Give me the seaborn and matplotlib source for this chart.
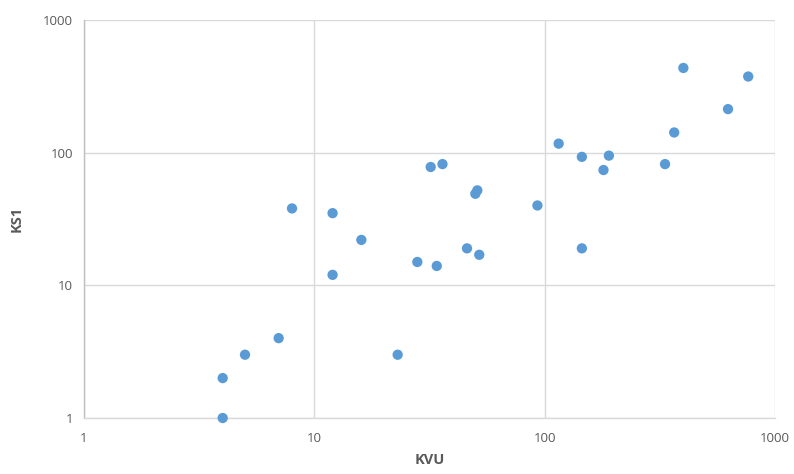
import pandas as pd
import matplotlib.pyplot as plt
import seaborn as sns
from matplotlib.ticker import FixedLocator, NullLocator

kvu = [4, 4, 5, 7, 8, 12, 12, 16, 23, 28, 32, 34, 36, 46, 50, 51, 52, 93,
       115, 145, 145, 180, 190, 333, 365, 400, 625, 765]
ks1 = [2, 1, 3, 4, 38, 35, 12, 22, 3, 15, 78, 14, 82, 19, 49, 52, 17, 40,
       117, 93, 19, 74, 95, 82, 142, 435, 213, 375]
ticks = [1, 10, 100, 1000]
tick_labels = ["1", "10", "100", "1000"]

df = pd.DataFrame({"KVU": kvu, "KS1": ks1})

sns.set_style("white")
plt.rcParams['font.family'] = ['Open Sans', 'DejaVu Sans']

fig = plt.figure(figsize=(7.94, 4.74), dpi=100)
ax = fig.add_axes([0.1058, 0.1181, 0.8703, 0.8397])

sns.scatterplot(data=df, x="KVU", y="KS1", ax=ax, color="#5B9BD5",
                s=55, edgecolor="none", zorder=3, clip_on=False)

ax.set_xscale("log")
ax.set_yscale("log")
ax.set_xlim(1, 1000)
ax.set_ylim(1, 1000)
ax.xaxis.set_major_locator(FixedLocator(ticks))
ax.yaxis.set_major_locator(FixedLocator(ticks))
ax.xaxis.set_minor_locator(NullLocator())
ax.yaxis.set_minor_locator(NullLocator())
ax.set_xticklabels(tick_labels)
ax.set_yticklabels(tick_labels)

ax.grid(True, color="#D9D9D9", linewidth=1)
ax.set_axisbelow(True)
for side in ["top", "right"]:
    ax.spines[side].set_visible(False)
ax.spines["bottom"].set_color("#D9D9D9")
ax.spines["bottom"].set_linewidth(1)
ax.spines["left"].set_color("#BFBFBF")
ax.spines["left"].set_linewidth(1)

ax.tick_params(axis="both", length=0, labelsize=9.5, labelcolor="#595959")
ax.tick_params(axis="x", pad=10)
ax.tick_params(axis="y", pad=8)

ax.set_xlabel("KVU", fontsize=10.5, fontweight="bold", color="#595959", labelpad=6)
ax.set_ylabel("KS1", fontsize=10.5, fontweight="bold", color="#595959", labelpad=14)

plt.savefig("out.png", dpi=100, facecolor="white")
plt.close()
